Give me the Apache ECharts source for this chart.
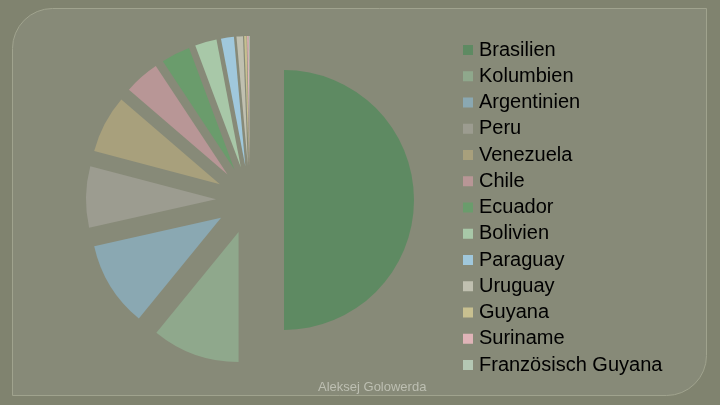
<!DOCTYPE html>
<html>
<head>
<meta charset="utf-8">
<script src="https://cdn.jsdelivr.net/npm/echarts@6/dist/echarts.min.js"></script>
<style>html,body{margin:0;padding:0;background:#80836f;}#c{width:720px;height:405px;}</style>
</head>
<body>
<div id="c"></div>
<script>
var categories = ['Brasilien','Kolumbien','Argentinien','Peru','Venezuela','Chile','Ecuador','Bolivien','Paraguay','Uruguay','Guyana','Suriname','Französisch Guyana'];
var values = [50.0, 10.9, 10.6, 7.6, 7.2, 4.4, 3.6, 2.7, 1.6, 0.8, 0.3, 0.2, 0.1];
var colors = ['#5e8a62','#8fa88c','#8aa8b2','#9c9c90','#a8a07c','#b89696','#6a9c6c','#a8c8a8','#a0c8dc','#c0c0b0','#c8c090','#e0b4b8','#b4c8b4'];

var chart = echarts.init(document.getElementById('c'), null, {renderer: 'canvas'});
var data = categories.map(function (n, i) {
  return {name: n, value: values[i], selected: true, itemStyle: {color: colors[i]}};
});
chart.setOption({
  backgroundColor: '#80836f',
  animation: false,
  graphic: [
    {type: 'rect', z: -10, silent: true,
     shape: {x: 12.5, y: 8.5, width: 694, height: 387, r: [40, 0, 40, 0]},
     style: {fill: '#878a78', stroke: '#a0a38e', lineWidth: 1}},
    {type: 'text', left: 318, top: 381, silent: true,
     style: {text: 'Aleksej Golowerda', fill: '#bdbfb2', font: '13px "Liberation Sans", Arial, sans-serif'}}
  ],
  legend: {
    orient: 'vertical',
    left: 463,
    top: 40,
    padding: 0,
    itemWidth: 10,
    itemHeight: 10,
    itemGap: 6.25,
    icon: 'rect',
    selectedMode: false,
    textStyle: {fontSize: 20, color: '#000', fontFamily: '"Liberation Sans", Arial, sans-serif', lineHeight: 20, padding: [0,0,0,1]},
    data: categories
  },
  series: [{
    type: 'pie',
    center: [250, 200],
    radius: [0, 130],
    startAngle: 90,
    clockwise: true,
    selectedMode: 'multiple',
    selectedOffset: 34,
    label: {show: false},
    labelLine: {show: false},
    emphasis: {disabled: true},
    select: {itemStyle: {borderWidth: 0, opacity: 1}},
    itemStyle: {borderWidth: 0},
    data: data
  }]
});
</script>
</body>
</html>
